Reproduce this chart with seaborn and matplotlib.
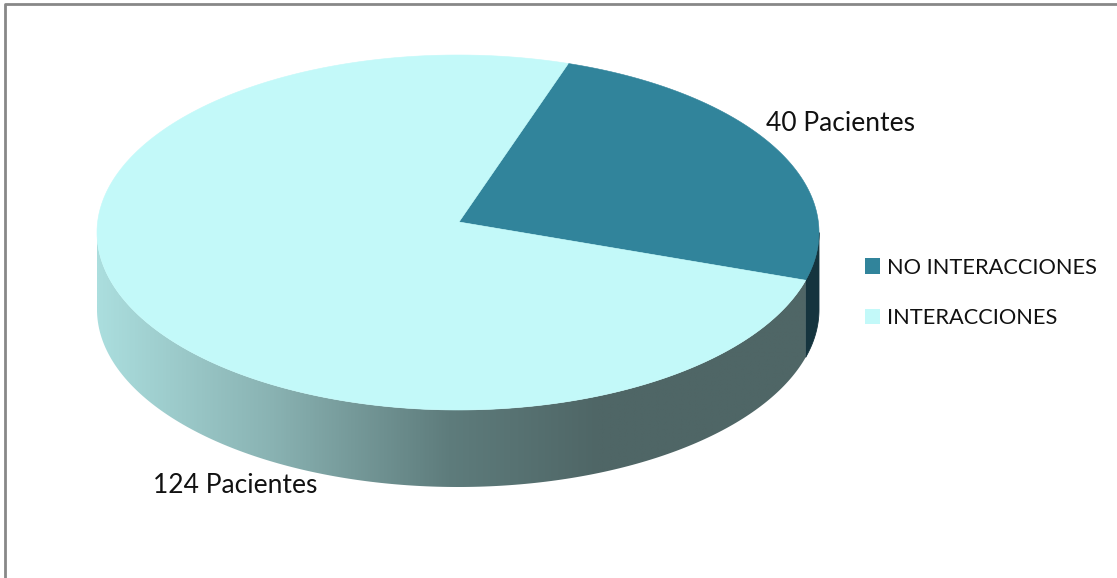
import numpy as np
import matplotlib
matplotlib.use("Agg")
import matplotlib.pyplot as plt
from matplotlib.patches import Polygon, Patch
from matplotlib.colors import LinearSegmentedColormap
import seaborn as sns

# Data
categories = ["NO INTERACCIONES", "INTERACCIONES"]
patients = [40, 124]
label_texts = [f"{v} Pacientes" for v in patients]

# Styles
top_colors = ["#31849B", "#C3F9F9"]
side_colors = ["#15343E", None]  # None -> shaded gradient
sns.set_theme(style="white")
plt.rcParams["font.family"] = ["Lato", "DejaVu Sans"]

W, H = 1117, 578
fig = plt.figure(figsize=(W / 100, H / 100), dpi=100)
ax = fig.add_axes([0, 0, 1, 1])
ax.set_xlim(0, W)
ax.set_ylim(H, 0)
ax.axis("off")

# Pie geometry (pixel space of the axes)
cx, cy = 458.0, 232.5
rx, ry = 361.0, 177.5
depth = 77.0
apex = (459.0, 222.0)
start_deg = 72.2

fracs = np.array(patients, dtype=float) / np.sum(patients)
# clockwise wedges: each slice covers [start - cum, start - cum_prev]
bounds = start_deg - 360.0 * np.concatenate([[0], np.cumsum(fracs)])


def rim(t_deg, dy=0.0):
    t = np.radians(t_deg)
    return np.column_stack([cx + rx * np.cos(t), cy - ry * np.sin(t) + dy])


side_cmap = LinearSegmentedColormap.from_list(
    "side", [(0.0, "#ABDEDE"), (0.35, "#89B2B2"), (0.7, "#5E7C7C"), (1.0, "#4F6666")]
)
grad_x0, grad_x1 = cx - rx, 600.0

# Side walls (only the front half, 180..360 degrees, is visible)
for i in range(len(patients)):
    hi, lo = bounds[i], bounds[i + 1]
    a0, a1 = lo % 360.0, (lo % 360.0) + (hi - lo)
    for shift in (0.0, 360.0, -360.0):
        s0, s1 = max(a0 + shift, 180.0), min(a1 + shift, 360.0)
        if s1 <= s0:
            continue
        ts = np.linspace(s0, s1, 200)
        poly = np.vstack([rim(ts), rim(ts[::-1], depth)])
        if side_colors[i] is not None:
            ax.add_patch(Polygon(poly, closed=True, facecolor=side_colors[i],
                                 edgecolor=side_colors[i], lw=0.6, zorder=2))
        else:
            wall = Polygon(poly, closed=True, facecolor="none",
                           edgecolor="none", zorder=2)
            ax.add_patch(wall)
            xs = np.linspace(poly[:, 0].min(), poly[:, 0].max(), 800)
            u = np.clip((xs - grad_x0) / (grad_x1 - grad_x0), 0, 1)
            img = ax.imshow(u[None, :], cmap=side_cmap, vmin=0, vmax=1,
                            aspect="auto", interpolation="bilinear",
                            extent=[xs[0], xs[-1], poly[:, 1].max(),
                                    poly[:, 1].min()], zorder=2)
            img.set_clip_path(wall)

# Top faces
for i in range(len(patients)):
    hi, lo = bounds[i], bounds[i + 1]
    ts = np.linspace(hi, lo, 400)
    poly = np.vstack([[apex], rim(ts)])
    ax.add_patch(Polygon(poly, closed=True, facecolor=top_colors[i],
                         edgecolor=top_colors[i], lw=0.4, zorder=3))

ax.set_xlim(0, W)
ax.set_ylim(H, 0)

# Slice labels
label_pos = [(766, 131), (153, 493)]
for txt, (x, y) in zip(label_texts, label_pos):
    ax.text(x, y, txt, fontsize=19, color="#111111", ha="left",
            va="baseline", zorder=5)

# Legend
handles = [Patch(facecolor=c, edgecolor="none") for c in top_colors]
leg = ax.legend(handles, categories, loc="upper left",
                bbox_to_anchor=(856 / W, 1 - 249 / H), frameon=False,
                fontsize=15.7, handlelength=0.7, handleheight=0.7,
                handletextpad=0.3, labelspacing=1.4, borderaxespad=0)
for t in leg.get_texts():
    t.set_color("#111111")

# Outer frame (top and left edges)
ax.plot([4.5, 4.5, W], [H, 3.5, 3.5], color="#888888", lw=2.0,
        solid_capstyle="butt", zorder=6)

fig.savefig("out.png", dpi=100)
